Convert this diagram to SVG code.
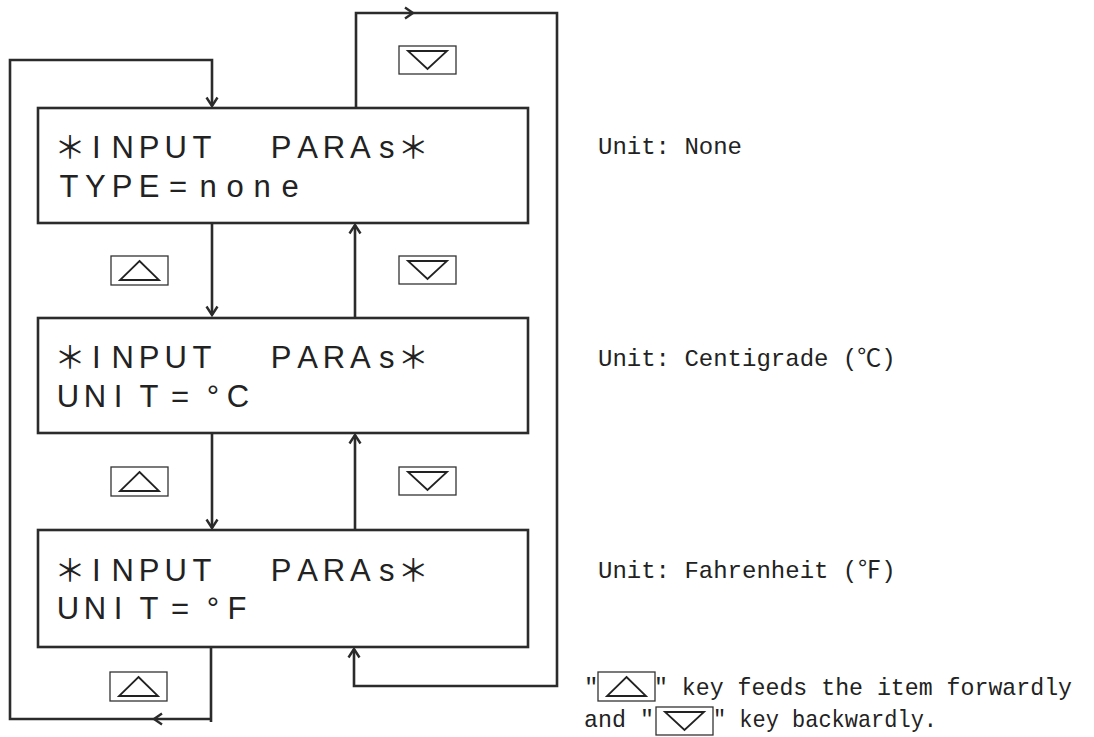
<svg xmlns="http://www.w3.org/2000/svg" width="1094" height="737" viewBox="0 0 1094 737">
<style>
.bg{fill:#fff}
.box{fill:#fff;stroke:#2b2b2b;stroke-width:2.6}
.lcd{font-family:"Liberation Sans",Arial,sans-serif;font-size:31px;fill:#222;text-anchor:middle}
.star{font-family:"Noto Sans CJK JP",sans-serif;font-size:31px}
.con{fill:none;stroke:#2b2b2b;stroke-width:2.6;stroke-linejoin:miter}
.chev{fill:none;stroke:#2b2b2b;stroke-width:2.4}
.key{fill:#fff;stroke:#333;stroke-width:1.3}
.tri{fill:none;stroke:#222;stroke-width:1.8;stroke-linejoin:miter}
.note{font-family:"Liberation Mono","Courier New",monospace;font-size:24px;fill:#222}
.deg{font-family:"Noto Sans CJK JP",sans-serif}
</style>
<defs>
<marker id="arr" markerUnits="userSpaceOnUse" markerWidth="14" markerHeight="14" viewBox="0 0 14 14" refX="11" refY="7" orient="auto">
<path d="M2.5,1.5 L11,7 L2.5,12.5" fill="none" stroke="#2b2b2b" stroke-width="2.4"/>
</marker>
<g id="kup"><rect class="key" x="0" y="0" width="57" height="29"/><path class="tri" d="M28.5,5 L48,24 L9,24 Z"/></g>
<g id="kdn"><rect class="key" x="0" y="0" width="57" height="28"/><path class="tri" d="M9,5 L48,5 L28.5,23 Z"/></g>
</defs>
<rect class="bg" x="0" y="0" width="1094" height="737"/>

<g id="connectors">
<path class="con" d="M211,647 V722 M212.3,719 H10 V60 H212 V106" marker-end="url(#arr)"/>
<path class="chev" d="M162,713.5 L154,719 L162,724.5"/>
<path class="con" d="M356,108 V13 H557 V686 H354 V649" marker-end="url(#arr)"/>
<path class="chev" d="M405,7.5 L413,13 L405,18.5"/>
<path class="con" d="M212,223 V315" marker-end="url(#arr)"/>
<path class="con" d="M212,433 V528" marker-end="url(#arr)"/>
<path class="con" d="M355,530 V435" marker-end="url(#arr)"/>
<path class="con" d="M355,317 V225" marker-end="url(#arr)"/>
</g>

<g id="keys">
<use href="#kdn" x="399" y="46"/>
<use href="#kup" x="111" y="256"/>
<use href="#kdn" x="399" y="256"/>
<use href="#kup" x="111" y="467"/>
<use href="#kdn" x="399" y="467"/>
<use href="#kup" x="110" y="672"/>
</g>

<g id="node1">
<rect class="box" x="38" y="108" width="490" height="115"/>
<text class="lcd" y="158"><tspan class="star" x="70">＊</tspan><tspan x="96.4 122.8 149.2 175.6 202">INPUT</tspan><tspan x="281.2 307.6 334 360.4 386.8">PARAs</tspan><tspan class="star" x="413.2">＊</tspan></text>
<text class="lcd" y="197" x="69 95.4 122 149.2 178 208 235 262 290">TYPE=none</text>
</g>

<g id="node2">
<rect class="box" x="38" y="318" width="490" height="115"/>
<text class="lcd" y="368"><tspan class="star" x="70">＊</tspan><tspan x="96.4 122.8 149.2 175.6 202">INPUT</tspan><tspan x="281.2 307.6 334 360.4 386.8">PARAs</tspan><tspan class="star" x="413.2">＊</tspan></text>
<text class="lcd" y="407" x="68 95 118 149 180 213 238">UNIT=°C</text>
</g>

<g id="node3">
<rect class="box" x="38" y="530" width="490" height="117"/>
<text class="lcd" y="581"><tspan class="star" x="70">＊</tspan><tspan x="96.4 122.8 149.2 175.6 202">INPUT</tspan><tspan x="281.2 307.6 334 360.4 386.8">PARAs</tspan><tspan class="star" x="413.2">＊</tspan></text>
<text class="lcd" y="619" x="68 95 118 149 180 213 237">UNIT=°F</text>
</g>

<g id="notes">
<text class="note" x="598" y="154">Unit: None</text>
<text class="note" x="598" y="366">Unit: Centigrade (<tspan class="deg">℃</tspan>)</text>
<text class="note" x="598" y="578">Unit: Fahrenheit (<tspan class="deg">℉</tspan>)</text>
<text class="note" x="584" y="695">"</text>
<use href="#kup" x="598" y="672"/>
<text class="note" x="654" y="695" textLength="418" lengthAdjust="spacingAndGlyphs">" key feeds the item forwardly</text>
<text class="note" x="584" y="727" textLength="70" lengthAdjust="spacingAndGlyphs">and "</text>
<use href="#kdn" x="656" y="707"/>
<text class="note" x="713" y="727" textLength="224" lengthAdjust="spacingAndGlyphs">" key backwardly.</text>
</g>
</svg>
